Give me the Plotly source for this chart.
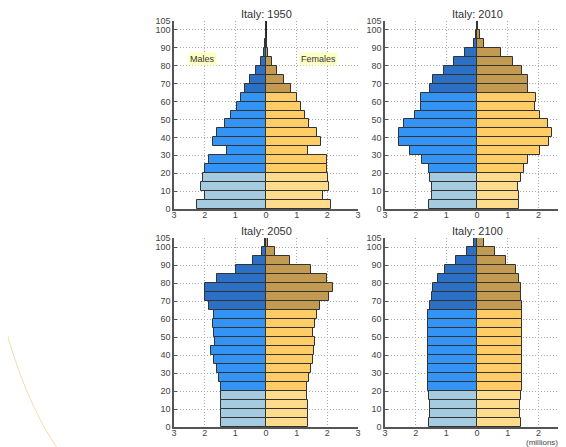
import plotly.graph_objects as go

ages = [f"{a}-{a+4}" for a in range(0, 105, 5)]
age_mid = [a + 2.5 for a in range(0, 105, 5)]

years = ["1950", "2010", "2050", "2100"]

males_1950 = [2.26, 1.98, 2.13, 2.04, 1.98, 1.87, 1.26, 1.72, 1.59, 1.33, 1.13,
              0.95, 0.83, 0.67, 0.52, 0.33, 0.17, 0.08, 0.02, 0.005, 0.0]
females_1950 = [2.13, 1.87, 2.04, 2.01, 2.0, 2.0, 1.37, 1.80, 1.65, 1.41, 1.28,
                1.13, 1.0, 0.80, 0.59, 0.36, 0.18, 0.07, 0.02, 0.005, 0.0]

males_2010 = [1.56, 1.47, 1.47, 1.54, 1.58, 1.80, 2.17, 2.54, 2.56, 2.37, 2.02,
              1.83, 1.84, 1.52, 1.45, 1.08, 0.74, 0.40, 0.11, 0.04, 0.005]
females_2010 = [1.37, 1.37, 1.33, 1.43, 1.52, 1.66, 2.04, 2.34, 2.43, 2.32, 2.04,
                1.90, 1.91, 1.65, 1.65, 1.47, 1.17, 0.78, 0.22, 0.11, 0.02]

males_2050 = [1.46, 1.48, 1.48, 1.46, 1.46, 1.52, 1.59, 1.70, 1.80, 1.67, 1.70,
              1.72, 1.70, 1.85, 1.98, 1.98, 1.59, 0.98, 0.41, 0.13, 0.04]
females_2050 = [1.37, 1.37, 1.37, 1.35, 1.35, 1.39, 1.46, 1.54, 1.57, 1.61, 1.52,
                1.61, 1.67, 1.76, 2.04, 2.17, 1.98, 1.46, 0.78, 0.30, 0.07]

males_2100 = [1.57, 1.54, 1.54, 1.57, 1.59, 1.61, 1.61, 1.59, 1.59, 1.59, 1.61,
              1.61, 1.61, 1.54, 1.48, 1.43, 1.28, 1.04, 0.70, 0.33, 0.11]
females_2100 = [1.43, 1.41, 1.41, 1.43, 1.46, 1.48, 1.48, 1.48, 1.48, 1.48, 1.48,
                1.48, 1.48, 1.46, 1.43, 1.43, 1.37, 1.28, 0.96, 0.57, 0.24]

males = [males_1950, males_2010, males_2050, males_2100]
females = [females_1950, females_2010, females_2050, females_2100]

x_tickvals = [-3, -2, -1, 0, 1, 2, 3]
x_ticktext = ["3", "2", "1", "0", "1", "2", "3"]
y_tickvals = [0, 10, 20, 30, 40, 50, 60, 70, 80, 90, 100, 105]

male_cols = {"young": "#a5cbe0", "adult": "#3394f5", "old": "#2b70c4"}
female_cols = {"young": "#ffdb8c", "adult": "#ffcc66", "old": "#c39a52"}


def group(age_start):
    if age_start < 20:
        return "young"
    if age_start < 65:
        return "adult"
    return "old"


starts = list(range(0, 105, 5))
m_colors = [male_cols[group(a)] for a in starts]
f_colors = [female_cols[group(a)] for a in starts]

# page is 566x447, body has an 8px default margin -> figure offset
OFF = 8
PW, PH = 566, 447
W, H = PW - OFF, PH - OFF


def fx(x):
    return (x - OFF) / W


def fy(y):
    return 1 - (y - OFF) / H


# panel pixel boxes in page coordinates (left, right, top(105), bottom(0))
boxes = [(174, 358, 21, 209), (385, 566, 21, 209),
         (174, 358, 238, 427), (385, 566, 238, 427)]
xranges = [[-3, 3], [-3, 2.9], [-3, 3], [-3, 2.9]]
zero_px = [266, 477, 266, 477]
title_y = [14, 14, 231, 231]

fig = go.Figure()
font_family = "Liberation Sans, Arial, sans-serif"
layout = dict(width=W, height=H, margin=dict(l=0, r=0, t=0, b=0, autoexpand=False),
              paper_bgcolor="white", plot_bgcolor="white",
              showlegend=False, bargap=0, barmode="overlay",
              font=dict(family=font_family, size=9, color="#444"))
annotations = []

for i in range(4):
    xa = "x" if i == 0 else f"x{i+1}"
    ya = "y" if i == 0 else f"y{i+1}"
    l, r, t, b = boxes[i]
    fig.add_trace(go.Bar(y=age_mid, x=[-v for v in males[i]], orientation="h",
                         width=5, marker=dict(color=m_colors, line=dict(color="#333", width=1)),
                         xaxis=xa, yaxis=ya, name="Males"))
    fig.add_trace(go.Bar(y=age_mid, x=females[i], orientation="h",
                         width=5, marker=dict(color=f_colors, line=dict(color="#333", width=1)),
                         xaxis=xa, yaxis=ya, name="Females"))
    xkey = "xaxis" if i == 0 else f"xaxis{i+1}"
    ykey = "yaxis" if i == 0 else f"yaxis{i+1}"
    layout[xkey] = dict(domain=[fx(l), min(1.0, fx(r))], range=xranges[i], anchor=ya,
                        tickvals=x_tickvals, ticktext=x_ticktext,
                        showgrid=True, gridcolor="#a8a8a8", griddash="1px,2px", gridwidth=1,
                        zeroline=True, zerolinecolor="#222", zerolinewidth=2,
                        showline=True, linecolor="#555", linewidth=1.5,
                        ticks="", ticklen=0, ticklabelstandoff=-4,
                        tickfont=dict(size=9, color="#444"), fixedrange=True)
    layout[ykey] = dict(domain=[fy(b), fy(t)], range=[0, 105], anchor=xa,
                        tickvals=y_tickvals,
                        showgrid=True, gridcolor="#a8a8a8", griddash="1px,2px", gridwidth=1,
                        zeroline=False, showline=True, linecolor="#555", linewidth=1.5,
                        ticks="inside", ticklen=3, tickcolor="#555",
                        tickfont=dict(size=9, color="#444"), fixedrange=True)
    annotations.append(dict(text=f"Italy: {years[i]}", xref="paper", yref="paper",
                            x=fx(zero_px[i]), y=fy(title_y[i]), showarrow=False,
                            xanchor="center", yanchor="middle",
                            font=dict(size=11, color="#333")))

annotations.append(dict(text="Males", x=-2.07, y=83.8, xref="x", yref="y", showarrow=False,
                        bgcolor="#ffffc4", font=dict(size=9, color="#333")))
annotations.append(dict(text="Females", x=1.71, y=83.8, xref="x", yref="y", showarrow=False,
                        bgcolor="#ffffc4", font=dict(size=9, color="#333")))
annotations.append(dict(text="(millions)", x=fx(560), y=fy(442), xref="paper", yref="paper",
                        showarrow=False, xanchor="right", yanchor="middle",
                        font=dict(size=8, color="#444")))
layout["annotations"] = annotations


def px(x, y):
    return f"{fx(x):.4f},{fy(y):.4f}"


layout["shapes"] = [dict(type="path", xref="paper", yref="paper",
                         path=f"M {px(-2, 300)} Q {px(22, 400)} {px(60, 452)}",
                         line=dict(color="#f6dcae", width=1), layer="below")]

fig.update_layout(**layout)
fig.write_html("out.html")
